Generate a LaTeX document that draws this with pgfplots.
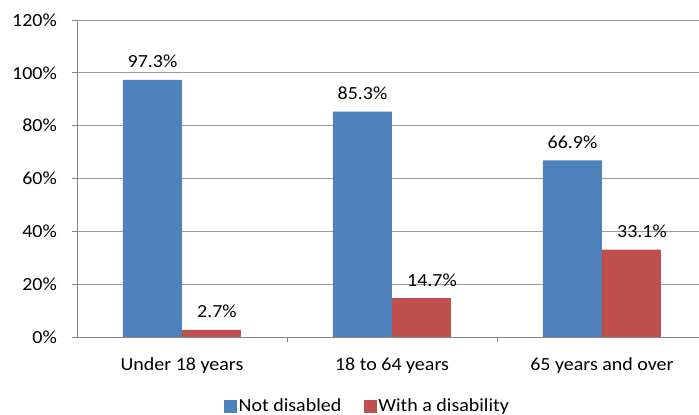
\documentclass[border=0pt]{standalone}
\usepackage{pgfplots}
\pgfplotsset{compat=1.18}
\usepackage{fontspec}
\setmainfont{Carlito}[FakeStretch=1.08]

\definecolor{barblue}{RGB}{79,129,189}
\definecolor{barred}{RGB}{192,80,77}
\definecolor{gridgray}{RGB}{155,155,155}
\definecolor{axisgray}{RGB}{134,134,134}

\begin{document}
\begin{tikzpicture}
\useasboundingbox (0,0) rectangle (699bp,415bp);
\begin{axis}[
  at={(77bp,78bp)}, anchor=south west,
  scale only axis,
  width=622bp, height=317bp,
  font=\fontsize{18.5bp}{22bp}\selectfont,
  /pgf/number format/assume math mode=true,
  ybar=0pt, bar width=59bp,
  xmin=-0.5, xmax=2.462,
  ymin=0, ymax=120,
  ytick={0,20,...,120},
  yticklabel={\pgfmathprintnumber{\tick}\%},
  xtick={0,1,2},
  xticklabels={Under 18 years, 18 to 64 years, 65 years and over},
  minor xtick={0.5,1.5},
  major x tick style={draw=none},
  tick align=outside,
  major tick length=5bp, minor tick length=5bp,
  tick style={axisgray, line width=0.8bp},
  axis x line*=bottom, axis y line*=left,
  axis line style={axisgray, line width=0.8bp, -},
  ymajorgrids, grid style={gridgray, line width=0.9bp},
  yticklabel style={anchor=east, inner sep=0pt, xshift=-15bp},
  xticklabel style={anchor=base, inner sep=0pt, yshift=-28bp},
  legend style={at={(rel axis cs:0.2315,-0.2177)}, anchor=west, draw=none,
    fill=none, font=\fontsize{18.5bp}{22bp}\selectfont,
    /tikz/every even column/.append style={column sep=21bp},
    nodes={inner sep=1.5bp}},
  legend columns=2,
  legend image code/.code={\fill[#1] (0bp,-6.5bp) rectangle (13bp,6.5bp);},
  nodes near coords={\pgfmathprintnumber[fixed,fixed zerofill,precision=1]{\pgfplotspointmeta}\%},
  every node near coord/.append style={inner sep=0pt, black},
]
\addplot[fill=barblue, draw=none,
  nodes near coords style={anchor=base, yshift=12bp}]
  coordinates {(0,97.3) (1,85.3) (2,66.9)};
\addplot[fill=barred, draw=none,
  nodes near coords style={anchor=base west, yshift=12bp, xshift=-14.5bp}]
  coordinates {(0,2.7) (1,14.7) (2,33.1)};
\legend{Not disabled, With a disability}
\end{axis}
\end{tikzpicture}
\end{document}
